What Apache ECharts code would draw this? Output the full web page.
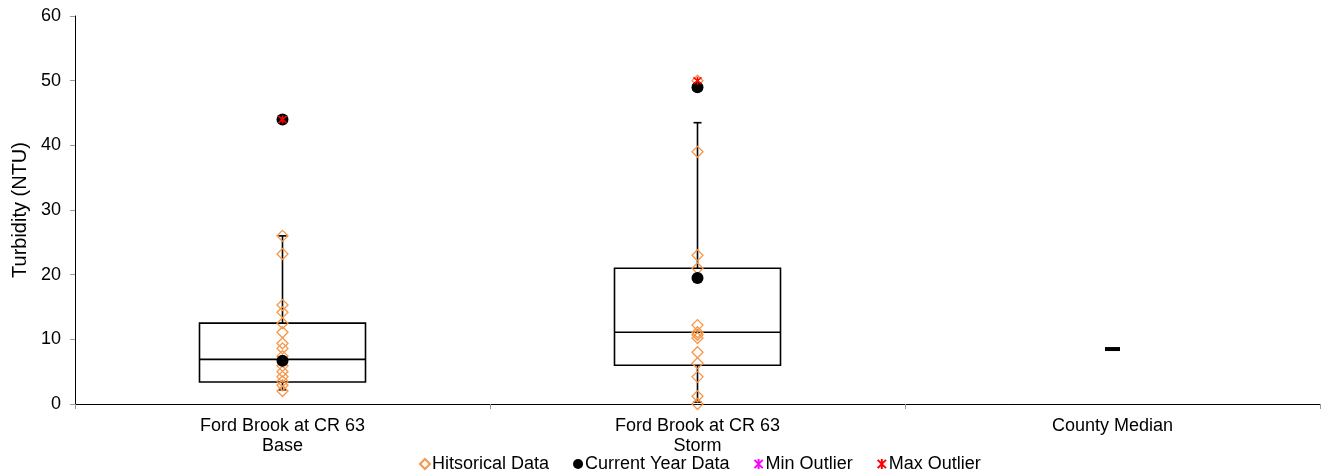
<!DOCTYPE html>
<html>
<head>
<meta charset="utf-8">
<title>Turbidity (NTU)</title>
<script src="https://cdn.jsdelivr.net/npm/echarts@6/dist/echarts.min.js"></script>
<style>
  html, body { margin: 0; padding: 0; background: #fff; }
  #chart { width: 1322px; height: 473px; }
</style>
</head>
<body>
<div id="chart"></div>
<script>
// Sites along the x axis
const categories = ['Ford Brook at CR 63\nBase', 'Ford Brook at CR 63\nStorm', 'County Median'];

// Box statistics per site: [min whisker, Q1, median, Q3, max whisker]
const baseBox = [2.2, 3.4, 6.9, 12.5, 26];
const stormBox = [0.3, 6.0, 11.1, 21.0, 43.5];

// Historical samples
const baseHistorical = [26, 23.2, 15.3, 14.2, 12.5, 11.1, 9.4, 8.6, 7.4, 5.9, 5.0, 4.2, 3.5, 2.9, 2.0];
const stormHistorical = [50, 39, 23, 21, 12.2, 11.1, 10.7, 10.2, 8.0, 6.3, 4.2, 1.2, 0];

// Current year samples
const baseCurrent = [44, 6.7];
const stormCurrent = [49, 19.5];

// Outliers
const baseMaxOutlier = [44];
const stormMaxOutlier = [50];
const minOutliers = [];

// County-wide median
const countyMedian = 8.5;

const FONT = "'Liberation Sans', Arial, sans-serif";
const ORANGE = '#F79646';
const ASTERISK = 'path://M0,0L10,10M10,0L0,10M5,-1L5,11';

function points(catIdx, values) {
  return values.map(v => [catIdx, v]);
}

const boxData = [
  [0].concat(baseBox),
  [1].concat(stormBox)
];

function renderBox(params, api) {
  const x = api.value(0);
  const lo = api.coord([x, api.value(1)]);
  const q1 = api.coord([x, api.value(2)]);
  const md = api.coord([x, api.value(3)]);
  const q3 = api.coord([x, api.value(4)]);
  const hi = api.coord([x, api.value(5)]);
  const band = api.size([1, 0])[0];
  const w = band * 0.4;
  const cx = lo[0];
  const cap = 4;
  const line = { stroke: '#000', lineWidth: 1.6, fill: null };
  return {
    type: 'group',
    children: [
      { type: 'line', shape: { x1: cx, y1: hi[1], x2: cx, y2: q3[1] }, style: line },
      { type: 'line', shape: { x1: cx, y1: q1[1], x2: cx, y2: lo[1] }, style: line },
      { type: 'line', shape: { x1: cx - cap, y1: hi[1], x2: cx + cap, y2: hi[1] }, style: line },
      { type: 'line', shape: { x1: cx - cap, y1: lo[1], x2: cx + cap, y2: lo[1] }, style: line },
      { type: 'rect', shape: { x: cx - w / 2, y: q3[1], width: w, height: q1[1] - q3[1] },
        style: { stroke: '#000', lineWidth: 1.6, fill: '#fff' } },
      { type: 'line', shape: { x1: cx - w / 2, y1: md[1], x2: cx + w / 2, y2: md[1] }, style: line }
    ]
  };
}

const chart = echarts.init(document.getElementById('chart'));
chart.setOption({
  animation: false,
  backgroundColor: '#fff',
  textStyle: { fontFamily: FONT, color: '#000' },
  grid: { left: 75, right: 2, top: 16, bottom: 69 },
  legend: {
    top: 450,
    left: 414,
    itemWidth: 10,
    itemHeight: 10,
    itemGap: 24,
    textStyle: { fontFamily: FONT, fontSize: 18, color: '#000', padding: [0, 0, 0, -3] },
    data: ['Hitsorical Data', 'Current Year Data', 'Min Outlier', 'Max Outlier']
  },
  xAxis: {
    type: 'category',
    data: categories,
    boundaryGap: true,
    axisLine: { lineStyle: { color: '#000', width: 1 } },
    axisTick: { show: true, length: 5, lineStyle: { color: '#999' } },
    axisLabel: { color: '#000', fontSize: 18, fontFamily: FONT, lineHeight: 20, margin: 12, interval: 0 },
    splitLine: { show: false }
  },
  yAxis: {
    type: 'value',
    min: 0,
    max: 60,
    interval: 10,
    name: 'Turbidity (NTU)',
    nameLocation: 'middle',
    nameGap: 45,
    nameTextStyle: { color: '#000', fontSize: 20, fontFamily: FONT },
    axisLine: { show: true, lineStyle: { color: '#000', width: 1 } },
    axisTick: { show: true, length: 5, lineStyle: { color: '#999' } },
    axisLabel: { color: '#000', fontSize: 18, fontFamily: FONT, margin: 14 },
    splitLine: { show: false }
  },
  series: [
    {
      name: 'Box',
      type: 'custom',
      renderItem: renderBox,
      data: boxData,
      encode: { x: 0, y: [1, 2, 3, 4, 5] },
      z: 1,
      silent: true
    },
    {
      name: 'County',
      type: 'scatter',
      symbol: 'rect',
      symbolSize: [15, 4],
      itemStyle: { color: '#000', opacity: 1 },
      data: [[2, countyMedian]],
      z: 2
    },
    {
      name: 'Hitsorical Data',
      type: 'scatter',
      symbol: 'diamond',
      symbolSize: 11,
      itemStyle: { color: 'rgba(255,255,255,0)', borderColor: ORANGE, borderWidth: 1.3, opacity: 1 },
      data: points(0, baseHistorical).concat(points(1, stormHistorical)),
      z: 3
    },
    {
      name: 'Current Year Data',
      type: 'scatter',
      symbol: 'circle',
      symbolSize: 12,
      itemStyle: { color: '#000', opacity: 1 },
      data: points(0, baseCurrent).concat(points(1, stormCurrent)),
      z: 4
    },
    {
      name: 'Min Outlier',
      type: 'scatter',
      symbol: ASTERISK,
      symbolSize: 8,
      itemStyle: { color: 'rgba(0,0,0,0)', borderColor: '#FF00FF', borderWidth: 1.5, opacity: 1 },
      data: minOutliers,
      z: 5
    },
    {
      name: 'Max Outlier',
      type: 'scatter',
      symbol: ASTERISK,
      symbolSize: 8,
      itemStyle: { color: 'rgba(0,0,0,0)', borderColor: '#FF0000', borderWidth: 1.5, opacity: 1 },
      data: points(0, baseMaxOutlier).concat(points(1, stormMaxOutlier)),
      z: 6
    }
  ]
});
</script>
</body>
</html>
